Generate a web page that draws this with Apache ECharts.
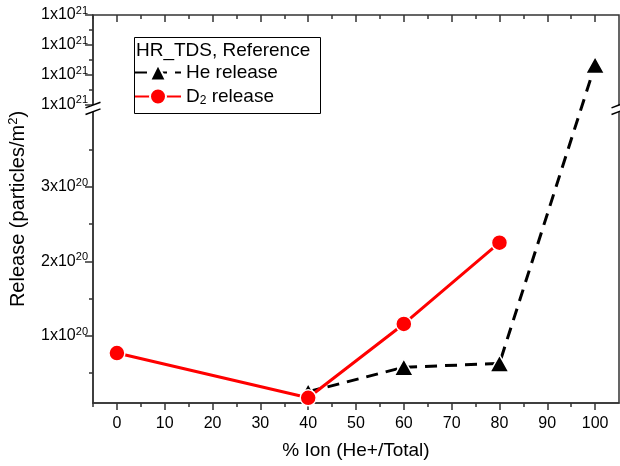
<!DOCTYPE html>
<html>
<head>
<meta charset="utf-8">
<script src="https://cdn.jsdelivr.net/npm/echarts@6/dist/echarts.min.js"></script>
<style>
  html, body { margin: 0; padding: 0; background: #fff; }
  #chart { width: 620px; height: 466px; }
</style>
</head>
<body>
<div id="chart"></div>
<script>
// Thermal desorption release vs. helium ion fraction
const heIon = [40, 60, 80, 100];
const heRelease = [2.5e19, 5.8e19, 6.3e19, 1.053e21];
const d2Ion = [0, 40, 60, 80];
const d2Release = [7.7e19, 1.7e19, 1.16e20, 2.25e20];

const ionTicks = [0, 10, 20, 30, 40, 50, 60, 70, 80, 90, 100];
const ionMinorTicks = [-5, 5, 15, 25, 35, 45, 55, 65, 75, 85, 95];
const releaseTicks = [1e20, 2e20, 3e20, 1.00e21, 1.04e21, 1.08e21, 1.12e21];
const releaseMinorTicks = [5e19, 1.5e20, 2.5e20, 3.5e20, 1.02e21, 1.06e21, 1.10e21];
const releaseBreak = { start: 4e20, end: 1e21 };

const FONT = '"Liberation Sans", Arial, Helvetica, sans-serif';
const AXIS_COLOR = '#333';

function sciLabel(v) {
  const e = Math.floor(Math.log10(v) + 1e-9);
  const m = Math.round(v / Math.pow(10, e));
  return '{b|' + m + 'x10}{s|' + e + '}';
}

const chart = echarts.init(document.getElementById('chart'), null, { renderer: 'canvas' });

const yCommon = {
  type: 'value',
  min: 1e19,
  max: 1.12e21,
  breaks: [{ start: releaseBreak.start, end: releaseBreak.end, gap: '2%' }],
  breakArea: { show: false },
  breakLabelLayout: { moveOverlap: false },
  splitLine: { show: false },
  minorTick: { show: false },
  silent: true
};

const xCommon = {
  type: 'value',
  min: -5,
  max: 105,
  splitLine: { show: false },
  silent: true
};

chart.setOption({
  animation: false,
  backgroundColor: '#fff',
  grid: {
    left: 93, right: 1, top: 15, bottom: 63,
    show: true, borderColor: AXIS_COLOR, borderWidth: 1.5,
    backgroundColor: 'transparent',
    containLabel: false, outerBoundsMode: 'none'
  },
  xAxis: [
    Object.assign({}, xCommon, {
      position: 'bottom',
      axisLine: { show: true, onZero: false, lineStyle: { color: AXIS_COLOR, width: 1.5 } },
      axisTick: { show: true, inside: false, length: 7, customValues: ionTicks, lineStyle: { color: AXIS_COLOR, width: 1.5 } },
      axisLabel: { show: true, customValues: ionTicks, margin: 13, color: '#000', fontSize: 16, fontFamily: FONT },
      name: '% Ion (He+/Total)',
      nameLocation: 'middle',
      nameGap: 38,
      nameTextStyle: { color: '#000', fontSize: 19, fontFamily: FONT }
    }),
    Object.assign({}, xCommon, {
      position: 'bottom',
      axisLine: { show: false, onZero: false },
      axisTick: { show: true, inside: false, length: 4, customValues: ionMinorTicks, lineStyle: { color: AXIS_COLOR, width: 1.5 } },
      axisLabel: { show: false }
    }),
    Object.assign({}, xCommon, {
      position: 'top',
      axisLine: { show: false, onZero: false },
      axisTick: { show: true, inside: true, length: 7, customValues: ionTicks, lineStyle: { color: AXIS_COLOR, width: 1.5 } },
      axisLabel: { show: false }
    }),
    Object.assign({}, xCommon, {
      position: 'top',
      axisLine: { show: false, onZero: false },
      axisTick: { show: true, inside: true, length: 4, customValues: ionMinorTicks, lineStyle: { color: AXIS_COLOR, width: 1.5 } },
      axisLabel: { show: false }
    })
  ],
  yAxis: [
    Object.assign({}, yCommon, {
      position: 'left',
      axisLine: { show: true, onZero: false, lineStyle: { color: AXIS_COLOR, width: 1.5 } },
      axisTick: { show: true, inside: false, length: 8, customValues: releaseTicks, lineStyle: { color: AXIS_COLOR, width: 1.5 } },
      axisLabel: {
        show: true,
        customValues: releaseTicks,
        margin: 5,
        formatter: sciLabel,
        rich: {
          b: { fontSize: 16, fontFamily: FONT, color: '#000', lineHeight: 19 },
          s: { fontSize: 11, fontFamily: FONT, color: '#000', lineHeight: 11, verticalAlign: 'top' }
        }
      },
      name: '{a|Release (particles/m}{s|2}{a|)}',
      nameLocation: 'middle',
      nameGap: 63,
      nameTextStyle: {
        rich: {
          a: { fontSize: 20, fontFamily: FONT, color: '#000', lineHeight: 23 },
          s: { fontSize: 13, fontFamily: FONT, color: '#000', lineHeight: 13, verticalAlign: 'top' }
        }
      }
    }),
    Object.assign({}, yCommon, {
      position: 'left',
      axisLine: { show: false, onZero: false },
      axisTick: { show: true, inside: false, length: 4, customValues: releaseMinorTicks, lineStyle: { color: AXIS_COLOR, width: 1.5 } },
      axisLabel: { show: false }
    })
  ],
  legend: {
    orient: 'vertical',
    left: 134,
    top: 63,
    padding: 0,
    itemWidth: 46,
    itemHeight: 20,
    itemGap: 5,
    selectedMode: false,
    data: ['He release', 'D2 release'],
    formatter: function (name) {
      return name === 'D2 release' ? '{a|D}{s|2}{a| release}' : '{a|He release}';
    },
    textStyle: {
      rich: {
        a: { fontSize: 19, fontFamily: FONT, color: '#000', lineHeight: 20 },
        s: { fontSize: 12, fontFamily: FONT, color: '#000', lineHeight: 6, verticalAlign: 'bottom' }
      }
    }
  },
  graphic: {
    elements: [
      {
        id: 'legendBox', type: 'rect', z: 50,
        shape: { x: 134.5, y: 37.5, width: 186, height: 76 },
        style: { fill: 'rgba(0,0,0,0)', stroke: '#000', lineWidth: 1 },
        silent: true
      },
      {
        id: 'legendTitle', type: 'text', z: 50,
        x: 136, y: 41,
        style: { text: 'HR_TDS, Reference', font: '19px ' + FONT, fill: '#000' },
        silent: true
      }
    ]
  },
  series: [
    {
      name: 'He release',
      type: 'line',
      xAxisIndex: 0, yAxisIndex: 0,
      data: heIon.map(function (x, i) { return [x, heRelease[i]]; }),
      symbol: 'triangle',
      symbolSize: [19, 17],
      lineStyle: { color: '#000', width: 3, type: [12, 8] },
      itemStyle: { color: '#000', borderColor: '#fff', borderWidth: 1.5 },
      emphasis: { disabled: true },
      silent: true,
      z: 2
    },
    {
      name: 'D2 release',
      type: 'line',
      xAxisIndex: 0, yAxisIndex: 0,
      data: d2Ion.map(function (x, i) { return [x, d2Release[i]]; }),
      symbol: 'circle',
      symbolSize: 16,
      lineStyle: { color: '#ff0000', width: 3 },
      itemStyle: { color: '#ff0000', borderColor: '#fff', borderWidth: 1.5 },
      emphasis: { disabled: true },
      silent: true,
      z: 3
    }
  ]
});

// Break markers ("//") on the left and right frame at the axis break
const xLeft = chart.convertToPixel({ xAxisIndex: 0 }, -5);
const xRight = chart.convertToPixel({ xAxisIndex: 0 }, 105);
const yUpper = chart.convertToPixel({ yAxisIndex: 0 }, releaseBreak.end);
const yLower = chart.convertToPixel({ yAxisIndex: 0 }, releaseBreak.start);
const yMid = (yUpper + yLower) / 2;

const breakEls = [];
[xLeft, xRight].forEach(function (x0, k) {
  breakEls.push({
    id: 'breakGap' + k, type: 'rect', z: 60, silent: true,
    shape: { x: x0 - 3, y: yMid - 3.3, width: 6, height: 6.6 },
    style: { fill: '#fff' }
  });
  [-3.3, 3.3].forEach(function (dy, j) {
    breakEls.push({
      id: 'breakLine' + k + '_' + j, type: 'line', z: 61, silent: true,
      shape: { x1: x0 - 7.5, y1: yMid + dy + 2.8, x2: x0 + 7.5, y2: yMid + dy - 2.8 },
      style: { stroke: '#000', lineWidth: 1.5 }
    });
  });
});
chart.setOption({ graphic: { elements: breakEls } });
</script>
</body>
</html>
